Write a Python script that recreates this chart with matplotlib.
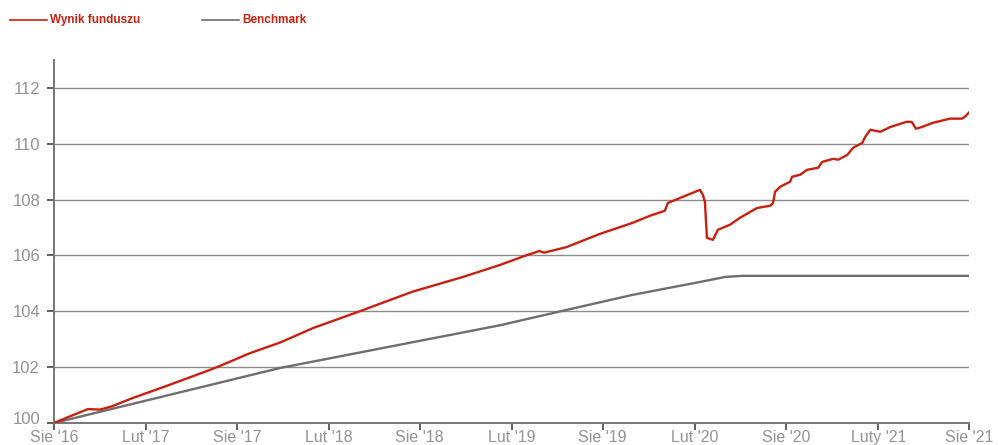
import numpy as np
import pandas as pd
import matplotlib
matplotlib.use('Agg')
import matplotlib.pyplot as plt
import matplotlib.transforms as mtransforms
from matplotlib.lines import Line2D

# fund result
fund_dates = ['2016-08-01', '2016-09-02', '2016-10-08', '2016-11-01', '2016-11-25',
              '2017-01-06', '2017-03-14', '2017-06-08', '2017-07-03', '2017-08-27',
              '2017-10-26', '2017-12-31', '2018-04-03', '2018-07-17', '2018-10-26',
              '2019-01-08', '2019-03-04', '2019-03-28', '2019-04-06', '2019-05-21',
              '2019-07-26', '2019-09-30', '2019-11-03', '2019-12-03', '2019-12-09',
              '2020-01-08', '2020-02-11', '2020-02-17', '2020-02-21', '2020-02-25',
              '2020-03-08', '2020-03-18', '2020-04-11', '2020-05-01', '2020-06-04',
              '2020-06-30', '2020-07-06', '2020-07-10', '2020-07-20', '2020-08-09',
              '2020-08-13', '2020-08-29', '2020-09-12', '2020-10-04', '2020-10-12',
              '2020-11-03', '2020-11-13', '2020-12-01', '2020-12-13', '2020-12-31',
              '2021-01-06', '2021-01-16', '2021-02-05', '2021-02-25', '2021-03-30',
              '2021-04-09', '2021-04-17', '2021-04-29', '2021-05-21', '2021-06-24',
              '2021-07-18', '2021-07-24', '2021-08-01']
fund_vals = [100.00, 100.24, 100.50, 100.48, 100.60,
             100.90, 101.33, 101.90, 102.08, 102.50,
             102.88, 103.40, 104.00, 104.70, 105.23,
             105.66, 106.02, 106.16, 106.10, 106.30,
             106.77, 107.17, 107.42, 107.60, 107.88,
             108.10, 108.35, 108.17, 107.92, 106.63,
             106.56, 106.92, 107.10, 107.35, 107.70,
             107.78, 107.88, 108.28, 108.46, 108.64,
             108.82, 108.89, 109.07, 109.14, 109.35,
             109.46, 109.43, 109.60, 109.86, 110.03,
             110.25, 110.50, 110.43, 110.60, 110.79,
             110.78, 110.54, 110.60, 110.75, 110.90,
             110.90, 110.97, 111.12]

bench_dates = ['2016-08-01', '2017-10-26', '2019-01-08', '2019-05-21', '2019-09-30',
               '2020-02-11', '2020-04-01', '2020-05-06', '2021-08-01']
bench_vals = [100.00, 101.97, 103.50, 104.05, 104.59,
              105.05, 105.23, 105.27, 105.27]

tick_dates = ['2016-08-01', '2017-02-01', '2017-08-01', '2018-02-01', '2018-08-01',
              '2019-02-01', '2019-08-01', '2020-02-01', '2020-08-01', '2021-02-01',
              '2021-08-01']
tick_labels = ["Sie '16", "Lut '17", "Sie '17", "Lut '18", "Sie '18", "Lut '19",
               "Sie '19", "Lut '20", "Sie '20", "Luty '21", "Sie '21"]

red = '#c9200f'
grey = '#6e6e6e'

fig = plt.figure(figsize=(9.98, 4.45), dpi=100)
ax = fig.add_axes([54/998, 22/445, 915/998, 363/445])

ax.plot(pd.to_datetime(bench_dates), bench_vals, color=grey, lw=1.7, zorder=3)
ax.plot(pd.to_datetime(fund_dates), fund_vals, color=red, lw=1.7, zorder=4)

ax.set_xlim(pd.Timestamp('2016-08-01'), pd.Timestamp('2021-08-01'))
ax.set_ylim(100, 113)
ax.set_yticks([100, 102, 104, 106, 108, 110, 112])
ax.set_xticks(pd.to_datetime(tick_dates))
ax.set_xticklabels(tick_labels)

for y in [102, 104, 106, 108, 110, 112]:
    ax.axhline(y, color='#8c8c8c', lw=1.0, zorder=1)

for s in ['top', 'right']:
    ax.spines[s].set_visible(False)
for s in ['left', 'bottom']:
    ax.spines[s].set_color('#777777')
    ax.spines[s].set_linewidth(1.4)

ax.tick_params(axis='y', direction='out', length=5, width=1.2, color='#444444',
               labelcolor='#939393', labelsize=12, pad=5)
ax.tick_params(axis='x', direction='out', length=5, width=1.2, color='#444444',
               labelcolor='#939393', labelsize=11.5, pad=0)
for lab in ax.get_xticklabels() + ax.get_yticklabels():
    lab.set_family(['Liberation Sans', 'DejaVu Sans'])

# lift the "100" label a little so it does not sit on "Sie '16"
lab100 = ax.get_yticklabels()[0]
lab100.set_transform(lab100.get_transform() +
                     mtransforms.ScaledTranslation(0, 5/100, fig.dpi_scale_trans))

# legend at top
fam = ['Liberation Sans Narrow', 'Liberation Sans', 'DejaVu Sans']
fig.add_artist(Line2D([10/998, 47/998], [1 - 20/445, 1 - 20/445], color=red, lw=1.2))
fig.text(50/998, 1 - 20/445, 'Wynik funduszu', color=red, fontsize=8.5, fontweight='bold',
         va='center', ha='left', family=fam)
fig.add_artist(Line2D([202/998, 239/998], [1 - 20/445, 1 - 20/445], color=grey, lw=1.2))
fig.text(242/998, 1 - 20/445, 'Benchmark', color=red, fontsize=8.5, fontweight='bold',
         va='center', ha='left', family=fam)

fig.savefig('out.png', dpi=100)
